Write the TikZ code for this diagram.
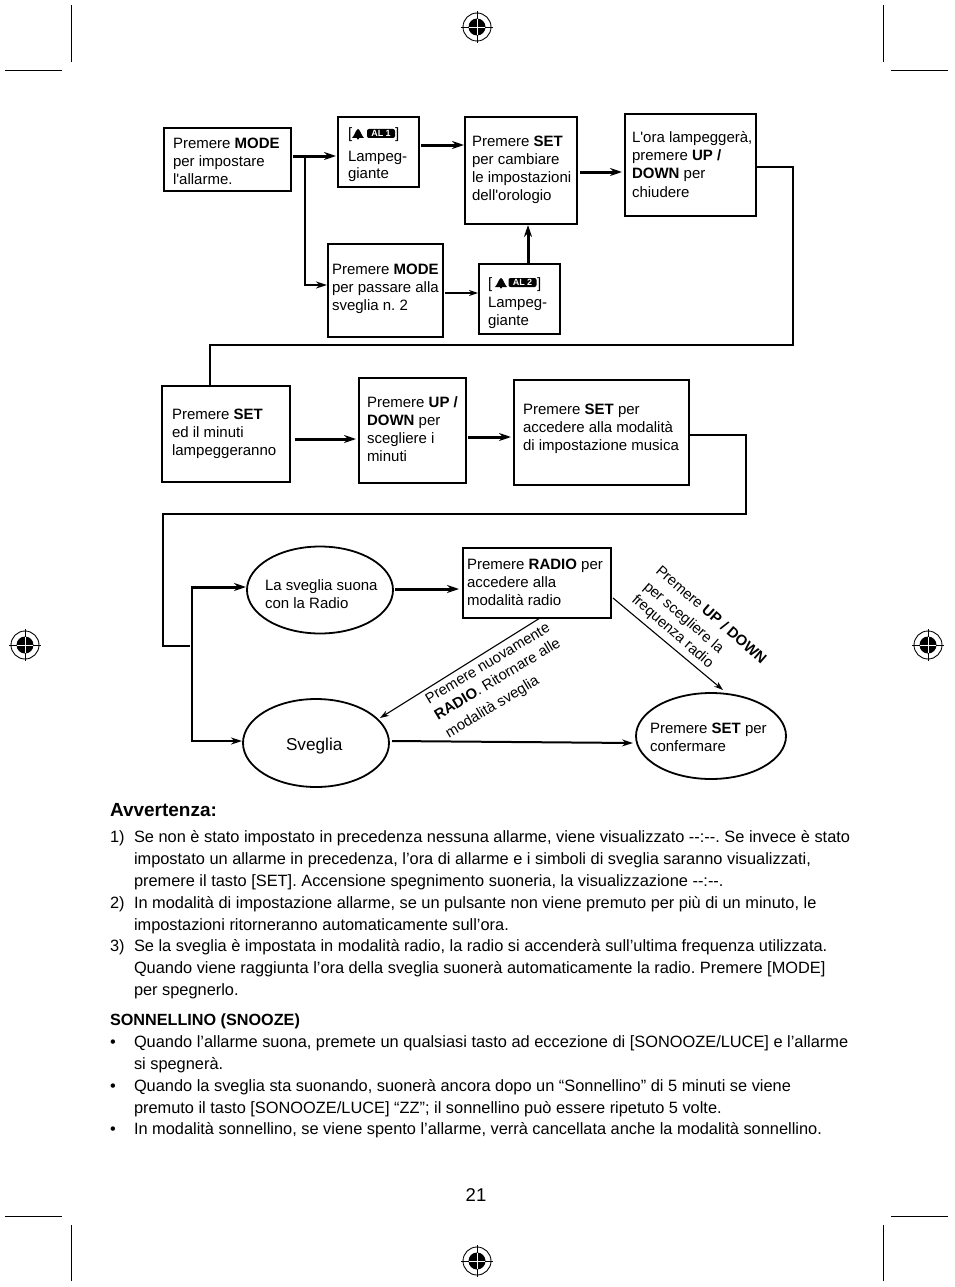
\documentclass[tikz,border=0pt]{standalone}
\usepackage{fontspec}
\setmainfont{Liberation Sans}
\newfontfamily\plainapos{Liberation Sans}
\usetikzlibrary{arrows.meta,shapes.geometric}
\AtBeginDocument{\frenchspacing}
\newcommand\pxfont[2]{\fontsize{#1pt}{#2pt}\selectfont}
\newcommand\apos{{\plainapos'}}
\tikzset{
  boxnode/.style={draw=black,line width=2.5pt,inner sep=0pt,outer sep=0pt,fill=white},
  ovalnode/.style={draw=black,ellipse,line width=1.8pt,inner sep=0pt,outer sep=0pt,font=\pxfont{15}{18}},
  bigarrow/.style={line width=3pt,-{Stealth[length=12pt,width=8pt]}},
  midarrow/.style={line width=2pt,-{Stealth[length=11pt,width=7pt]}},
  thinarrow/.style={line width=1.1pt,-{Stealth[length=9pt,width=6pt]}},
  plainline/.style={line width=2pt,line join=miter},
  crop/.style={line width=1pt,black},
  bodytext/.style={anchor=north west,inner sep=0pt,outer sep=0pt,align=left,font=\pxfont{16.37}{21.8}},
  slanttext/.style={anchor=base west,inner sep=0pt,outer sep=0pt,font=\pxfont{14.8}{18}},
  alarmtag/.style={fill=black,rounded corners=2pt,text=white,inner sep=0pt,minimum width=28pt,minimum height=9pt,font=\bfseries\pxfont{9}{9}},
}
\newcommand\bxn[8]{%
  \pgfmathsetmacro\bw{#4-#2}\pgfmathsetmacro\bh{#5-#3}%
  \node[boxnode] (#1) at ({(#2+#4)/2},{(#3+#5)/2}) {\parbox[c][\bh pt][t]{\bw pt}{\pxfont{15}{18}\leftskip=#6pt\rightskip=0pt plus 1fil\parindent=0pt\vspace*{#7pt}\strut #8\strut}};}
% zero-size text holder, so that the ellipse keeps its given size: dx, raise, text
\newcommand\ovaltext[3]{\raisebox{#2pt}[0pt][0pt]{\makebox[0pt][l]{\hspace*{#1pt}\parbox[c]{140pt}{\raggedright #3}}}}
\newcommand\bellat[2]{%
  \fill[black] (#1,#2+9) -- (#1+12,#2+9) .. controls (#1+9,#2+6) and (#1+8.5,#2+1) .. (#1+6,#2) .. controls (#1+3.5,#2+1) and (#1+3,#2+6) .. (#1,#2+9) -- cycle;
  \fill[black] (#1+6,#2+9.5) circle (1.2);}
\newcommand\regmark[3]{%
  \coordinate (#1) at (#2,#3);
  \draw[line width=0.9pt] (#1) circle (14);
  \fill[black] (#1) circle (8.5);
  \draw[line width=0.9pt,black] (#2-16,#3) -- (#2+16,#3) (#2,#3-16) -- (#2,#3+16);
  \draw[line width=0.7pt,white] (#2-8,#3) -- (#2+8,#3) (#2,#3-8) -- (#2,#3+8);}
\begin{document}
\begin{tikzpicture}[x=1pt,y=-1pt]
\useasboundingbox (0,0) rectangle (954,1287);
\fill[white] (0,0) rectangle (954,1287);
% crop marks
\draw[crop] (71,5) -- (71,62) (5,71) -- (62,71) (883,5) -- (883,62) (891,71) -- (948,71)
  (5,1216) -- (62,1216) (891,1216) -- (948,1216) (71,1225) -- (71,1281) (883,1225) -- (883,1281);
\regmark{regtop}{477}{27}
\regmark{regbottom}{477}{1261}
\regmark{regleft}{25}{645}
\regmark{regright}{928}{645}
% boxes
\bxn{b1}{164}{128}{291}{191}{9}{7.4}{Premere \textbf{MODE}\\per impostare\\l\apos allarme.}
\bxn{b2}{338}{117}{419}{187}{10}{8.4}{[\hspace{43pt}]\\[5pt]Lampeg-\\giante}
\bxn{b3}{465}{117}{577}{224}{7}{16.4}{Premere \textbf{SET}\\per cambiare\\le impostazioni\\dell\apos orologio}
\bxn{b4}{625}{114}{756}{216}{7}{16.4}{L\apos ora lampeggerà,\\premere \textbf{UP /}\\\textbf{DOWN} per\\chiudere}
\bxn{b5}{328}{244}{443}{337}{4}{17.4}{Premere \textbf{MODE}\\per passare alla\\sveglia n. 2}
\bxn{b6}{479}{264}{560}{334}{9}{11.4}{[\hspace{45pt}]\\[1pt]Lampeg-\\giante}
\bxn{b7}{162}{386}{290}{482}{10}{20.4}{Premere \textbf{SET}\\ed il minuti\\lampeggeranno}
\bxn{b8}{359}{378}{466}{483}{8}{16.4}{Premere \textbf{UP /}\\\textbf{DOWN} per\\scegliere i\\minuti}
\bxn{b9}{514}{380}{689}{485}{9}{21.4}{Premere \textbf{SET} per\\accedere alla modalità\\di impostazione musica}
\bxn{b10}{463}{548}{611}{618}{4}{8.4}{Premere \textbf{RADIO} per\\accedere alla\\modalità radio}
% alarm icons
\bellat{352}{129}
\node[alarmtag] (tag1) at (381,133.5) {AL 1};
\bellat{495}{278}
\node[alarmtag] (tag2) at (522.5,282.5) {AL 2};
% ellipses
\node[ovalnode,minimum width=146pt,minimum height=87pt] (e1) at (320,590) {\ovaltext{-55}{-7.5}{La sveglia suona\\con la Radio}};
\node[ovalnode,minimum width=146pt,minimum height=88pt,font=\pxfont{17.2}{20}] (e2) at (316,743) {\ovaltext{-30}{-7}{Sveglia}};
\node[ovalnode,minimum width=150pt,minimum height=86pt] (e3) at (711,736) {\ovaltext{-61}{-4.5}{Premere \textbf{SET} per\\confermare}};
% bend points
\coordinate (j1) at (305,156);
\coordinate (j1b) at (305,285);
\coordinate (c1) at (793,167);
\coordinate (c2) at (793,345);
\coordinate (c3) at (210,345);
\coordinate (d1) at (746,435);
\coordinate (d2) at (746,514);
\coordinate (d3) at (163,514);
\coordinate (d4) at (163,646);
\coordinate (d5) at (190,646);
\coordinate (j3) at (192,587);
\coordinate (j4) at (192,741);
% connectors
\draw[bigarrow] ([xshift=2pt,yshift=3.5pt]b1.east) -- ([xshift=-2pt,yshift=-4pt]b2.west);
\draw[midarrow] (j1) -- (j1b) -- ([xshift=-1pt,yshift=5.5pt]b5.west);
\draw[bigarrow] ([xshift=2pt,yshift=7pt]b2.east) -- ([xshift=-1pt,yshift=25.5pt]b3.west);
\draw[bigarrow] ([xshift=3pt,yshift=-1.5pt]b3.east) -- ([xshift=-3pt,yshift=-7pt]b4.west);
\draw[thinarrow] ([xshift=2pt,yshift=-2.5pt]b5.east) -- ([xshift=-1pt,yshift=-2.5pt]b5.east -| b6.west);
\draw[bigarrow] ([xshift=8.5pt]b6.north) -- ([xshift=7pt,yshift=-1pt]b3.south);
\draw[plainline] ([yshift=-2pt]b4.east) -- (c1) -- (c2) -- (c3) -- ([xshift=-16pt]b7.north);
\draw[bigarrow] ([xshift=5pt,yshift=-5pt]b7.east) -- ([xshift=-3pt,yshift=-8.5pt]b8.west);
\draw[bigarrow] ([xshift=2pt,yshift=-6.5pt]b8.east) -- ([xshift=-3pt,yshift=-4.5pt]b9.west);
\draw[plainline] ([yshift=-2.5pt]b9.east) -- (d1) -- (d2) -- (d3) -- (d4) -- (d5);
\draw[midarrow] ([yshift=1pt]j3) -- (j4) -- ([xshift=-1pt,yshift=2pt]e2.west);
\draw[bigarrow] (j3) -- ([xshift=-1pt,yshift=3pt]e1.west);
\draw[bigarrow] ([xshift=2pt,yshift=1pt]e1.east) -- ([xshift=-4pt,yshift=-6pt]b10.west);
\draw[thinarrow] ([xshift=2pt,yshift=-15pt]b10.east) -- ([xshift=12pt,yshift=46pt]e3.center);
\draw[thinarrow] ([xshift=3pt]b10.south) -- ([xshift=64pt,yshift=25pt]e2.center);
\draw[midarrow] ([xshift=3pt,yshift=2pt]e2.east) -- ([xshift=-3pt,yshift=-7pt]e3.west);
% slanted labels
\node[slanttext,rotate=-41] (s1) at (655,572) {Premere \textbf{UP / DOWN}};
\node[slanttext,rotate=-41] (s2) at (643,588) {per scegliere la};
\node[slanttext,rotate=-41] (s3) at (631,601) {frequenza radio};
\node[slanttext,rotate=31] (s4) at (429,704) {Premere nuovamente};
\node[slanttext,rotate=31] (s5) at (438,720) {\textbf{RADIO}. Ritornare alle};
\node[slanttext,rotate=31] (s6) at (449,738) {modalità sveglia};
% body text
\node[bodytext,font=\bfseries\pxfont{19}{20}] (h1) at (110,803) {Avvertenza:};
\node[bodytext] (n1) at (110,827.2) {\strut 1)};
\node[bodytext] (p1) at (134,827.2) {\strut Se non è stato impostato in precedenza nessuna allarme, viene visualizzato -{}-:-{}-. Se invece è stato\\impostato un allarme in precedenza, l’ora di allarme e i simboli di sveglia saranno visualizzati,\\premere il tasto [SET]. Accensione spegnimento suoneria, la visualizzazione -{}-:-{}-.};
\node[bodytext] (n2) at (110,893.2) {\strut 2)};
\node[bodytext] (p2) at (134,893.2) {\strut In modalità di impostazione allarme, se un pulsante non viene premuto per più di un minuto, le\\impostazioni ritorneranno automaticamente sull’ora.};
\node[bodytext] (n3) at (110,936.2) {\strut 3)};
\node[bodytext] (p3) at (134,936.2) {\strut Se la sveglia è impostata in modalità radio, la radio si accenderà sull’ultima frequenza utilizzata.\\Quando viene raggiunta l’ora della sveglia suonerà automaticamente la radio. Premere [MODE]\\per spegnerlo.};
\node[bodytext,font=\bfseries\pxfont{16.2}{20}] (h2) at (110,1014) {SONNELLINO (SNOOZE)};
\node[bodytext] (m1) at (110,1032.2) {\strut •};
\node[bodytext] (q1) at (134,1032.2) {\strut Quando l’allarme suona, premete un qualsiasi tasto ad eccezione di [SONOOZE/LUCE] e l’allarme\\si spegnerà.};
\node[bodytext] (m2) at (110,1076.2) {\strut •};
\node[bodytext] (q2) at (134,1076.2) {\strut Quando la sveglia sta suonando, suonerà ancora dopo un “Sonnellino” di 5 minuti se viene\\premuto il tasto [SONOOZE/LUCE] “ZZ”; il sonnellino può essere ripetuto 5 volte.};
\node[bodytext] (m3) at (110,1119.2) {\strut •};
\node[bodytext] (q3) at (134,1119.2) {\strut In modalità sonnellino, se viene spento l’allarme, verrà cancellata anche la modalità sonnellino.};
\node[inner sep=0pt,font=\pxfont{18.5}{20}] (pg) at (476,1195) {21};
\end{tikzpicture}
\end{document}
